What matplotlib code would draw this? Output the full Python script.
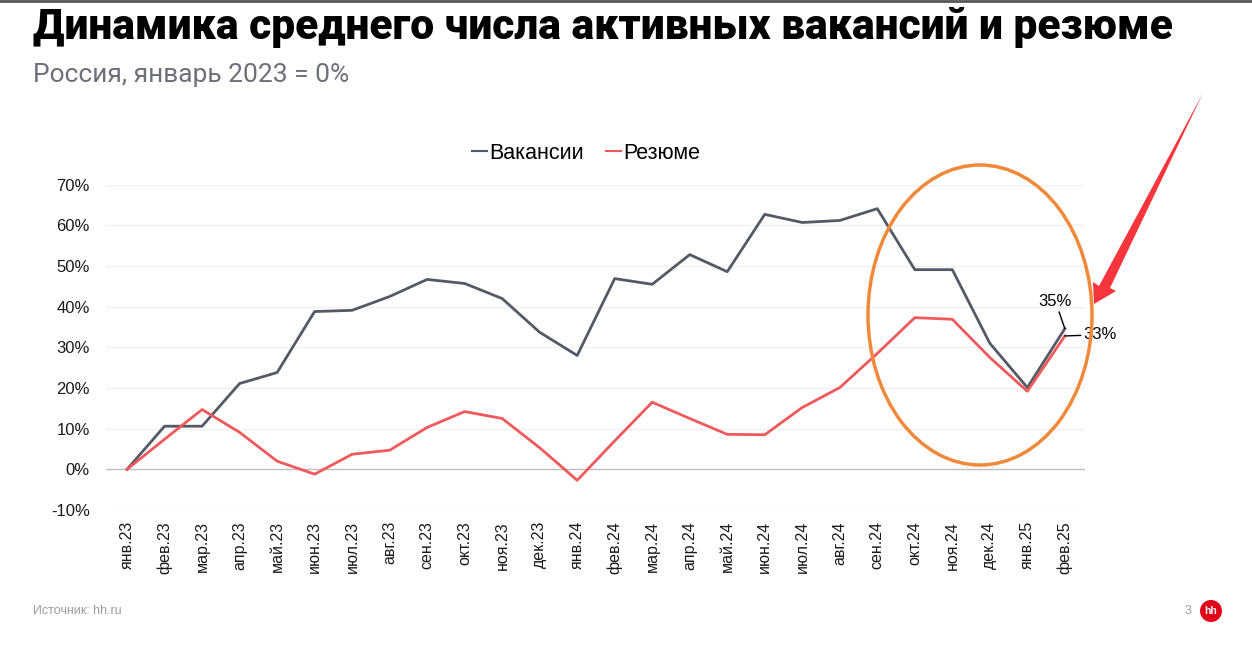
import numpy as np
import matplotlib.pyplot as plt
from matplotlib.patches import Ellipse, Polygon, Circle

# данные: изменение относительно января 2023, %
months = ['янв.23', 'фев.23', 'мар.23', 'апр.23', 'май.23', 'июн.23', 'июл.23',
          'авг.23', 'сен.23', 'окт.23', 'ноя.23', 'дек.23', 'янв.24', 'фев.24',
          'мар.24', 'апр.24', 'май.24', 'июн.24', 'июл.24', 'авг.24', 'сен.24',
          'окт.24', 'ноя.24', 'дек.24', 'янв.25', 'фев.25']
vacancies = [0, 10.6, 10.6, 21.1, 23.8, 38.8, 39.1, 42.5, 46.7, 45.7, 42.0, 33.7,
             28.0, 46.9, 45.5, 52.8, 48.6, 62.7, 60.7, 61.2, 64.1, 49.1, 49.1,
             31.0, 20.1, 34.6]
resumes = [0, 7.4, 14.7, 9.1, 2.0, -1.2, 3.7, 4.7, 10.3, 14.2, 12.5, 5.3,
           -2.7, 7.0, 16.5, 12.5, 8.6, 8.5, 15.2, 20.1, 28.5, 37.3, 36.9,
           27.5, 19.2, 32.8]
yticks = [-10, 0, 10, 20, 30, 40, 50, 60, 70]

C_VAC = '#545966'
C_RES = '#f0595b'

plt.rcParams['font.family'] = ['Liberation Sans', 'DejaVu Sans']

fig = plt.figure(figsize=(12.52, 6.48), dpi=100)
fig.patch.set_facecolor('white')

ax = fig.add_axes([0.085, 0.213, 0.782, 0.502])
x = np.arange(len(months))
ax.plot(x, vacancies, color=C_VAC, lw=2, label='Вакансии')
ax.plot(x, resumes, color=C_RES, lw=2, label='Резюме')

ax.set_xlim(-0.55, len(months) - 0.45)
ax.set_ylim(-10, 70)
ax.set_yticks(yticks)
ax.set_yticklabels([f'{v}%' for v in yticks], fontsize=12, color='#1a1a1a')
ax.set_xticks(x)
ax.set_xticklabels(months, rotation=90, fontsize=11.5, color='#1a1a1a')
ax.tick_params(length=0, pad=8)
ax.tick_params(axis='y', pad=12)
for v in yticks:
    ax.axhline(v, color='#bdbdbd' if v == 0 else '#f0f0f0', lw=1, zorder=0)
for s in ax.spines.values():
    s.set_visible(False)

leg = ax.legend(loc='lower center', bbox_to_anchor=(0.49, 1.005), ncol=2,
                frameon=False, fontsize=15.5, handlelength=0.7, handletextpad=0.1,
                columnspacing=1.0)
for h in leg.get_lines():
    h.set_linewidth(1.5)

# подписи последней точки
ax.annotate(f'{round(vacancies[-1])}%', xy=(x[-1], vacancies[-1]),
            xytext=(x[-1] - 0.25, vacancies[-1] + 4.8), fontsize=12, ha='center',
            va='bottom', arrowprops=dict(arrowstyle='-', color='black', lw=1,
                                         shrinkA=0, shrinkB=0))
ax.annotate(f'{round(resumes[-1])}%', xy=(x[-1], resumes[-1]),
            xytext=(x[-1] + 0.5, resumes[-1] + 0.3), fontsize=12, ha='left',
            va='center', arrowprops=dict(arrowstyle='-', color='black', lw=1,
                                         shrinkA=0, shrinkB=0))

# заголовки
fig.text(0.026, 0.957, 'Динамика среднего числа активных вакансий и резюме',
         fontsize=30.6, fontweight='heavy', color='black', va='center',
         family=['Roboto', 'DejaVu Sans'])
fig.text(0.026, 0.884, 'Россия, январь 2023 = 0%', fontsize=19, color='#6e7079',
         va='center', family=['Roboto', 'DejaVu Sans'])
fig.text(0.026, 0.057, 'Источник: hh.ru', fontsize=9, color='#9a9ca2', va='center')

# поверх всего — пометки в пикселях
over = fig.add_axes([0, 0, 1, 1], facecolor='none')
over.set_xlim(0, 1252)
over.set_ylim(648, 0)
over.axis('off')
over.plot([0, 1252], [1, 1], color='#555555', lw=2)
over.add_patch(Ellipse((980, 315), 224, 300, fill=False, ec='#f08a3a', lw=2.5))
over.add_patch(Polygon([(1203, 93), (1110, 288), (1116, 291), (1094, 304),
                        (1093, 282), (1099, 286)], closed=True,
                       fc='#f7353c', ec='none'))
over.text(1188, 611, '3', fontsize=9, color='#9a9ca2', ha='center', va='center')
over.add_patch(Circle((1211, 611), 11, fc='#e3001b', ec='none'))
over.text(1211, 611, 'hh', fontsize=7.5, color='white', fontweight='bold',
          ha='center', va='center')

fig.savefig('out.png', dpi=100)
